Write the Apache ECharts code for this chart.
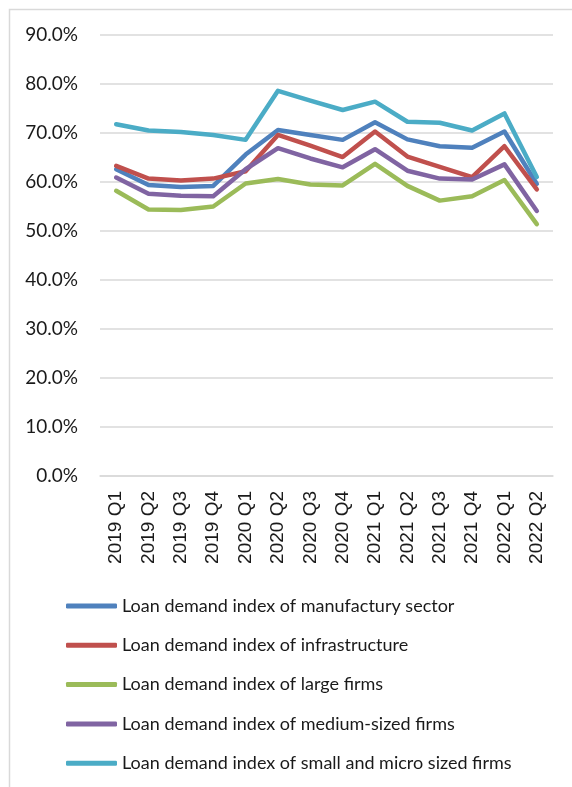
<!DOCTYPE html>
<html>
<head>
<meta charset="utf-8">
<script src="https://cdn.jsdelivr.net/npm/echarts@6/dist/echarts.min.js"></script>
<style>
  html, body { margin: 0; padding: 0; background: #ffffff; }
  #chart { width: 572px; height: 787px; }
</style>
</head>
<body>
<div id="chart"></div>
<script>
// Quarterly loan demand indices (%), 2019 Q1 – 2022 Q2
const quarters = ['2019 Q1', '2019 Q2', '2019 Q3', '2019 Q4', '2020 Q1', '2020 Q2', '2020 Q3',
                  '2020 Q4', '2021 Q1', '2021 Q2', '2021 Q3', '2021 Q4', '2022 Q1', '2022 Q2'];

const manufacturing = [62.6, 59.4, 59.0, 59.2, 65.6, 70.6, 69.6, 68.6, 72.2, 68.7, 67.3, 67.0, 70.3, 59.6];
const infrastructure = [63.3, 60.7, 60.3, 60.7, 62.2, 69.6, 67.4, 65.1, 70.3, 65.2, 63.1, 61.0, 67.3, 58.5];
const largeFirms = [58.2, 54.4, 54.3, 55.0, 59.7, 60.6, 59.5, 59.3, 63.7, 59.2, 56.2, 57.1, 60.4, 51.4];
const mediumFirms = [60.9, 57.6, 57.2, 57.1, 62.6, 66.9, 64.8, 63.0, 66.7, 62.3, 60.7, 60.5, 63.6, 54.1];
const smallMicroFirms = [71.8, 70.5, 70.2, 69.6, 68.6, 78.6, 76.6, 74.7, 76.4, 72.3, 72.1, 70.5, 74.0, 61.0];

const yTicks = { min: 0, max: 90, step: 10 };

const seriesDefs = [
  { name: 'Loan demand index of manufactury sector', data: manufacturing, color: '#4F81BD' },
  { name: 'Loan demand index of infrastructure', data: infrastructure, color: '#C0504D' },
  { name: 'Loan demand index of large firms', data: largeFirms, color: '#9BBB59' },
  { name: 'Loan demand index of medium-sized firms', data: mediumFirms, color: '#8064A2' },
  { name: 'Loan demand index of small and micro sized firms', data: smallMicroFirms, color: '#4BACC6' }
];

const chart = echarts.init(document.getElementById('chart'), null, { renderer: 'canvas' });

chart.setOption({
  backgroundColor: '#ffffff',
  animation: false,
  graphic: [{
    type: 'rect',
    left: 7, top: 7,
    shape: { width: 700, height: 900 },
    style: { fill: 'none', stroke: '#d9d9d9', lineWidth: 1.5 },
    silent: true
  }],
  grid: { left: 100, right: 19, top: 35, bottom: 311, containLabel: false },
  xAxis: {
    type: 'category',
    data: quarters,
    boundaryGap: true,
    axisLine: { show: true, lineStyle: { color: '#d9d9d9', width: 1.5 } },
    axisTick: { show: false },
    axisLabel: {
      rotate: 90,
      margin: 15,
      color: '#1a1a1a',
      fontFamily: 'Liberation Sans',
      fontSize: 19
    }
  },
  yAxis: {
    type: 'value',
    min: yTicks.min,
    max: yTicks.max,
    interval: yTicks.step,
    axisLine: { show: false },
    axisTick: { show: false },
    splitLine: { lineStyle: { color: '#d9d9d9', width: 1.5 } },
    axisLabel: {
      margin: 22,
      color: '#1a1a1a',
      fontFamily: 'Lato',
      fontSize: 19,
      formatter: v => v.toFixed(1) + '%'
    }
  },
  legend: {
    orient: 'vertical',
    left: 61,
    top: 591,
    itemWidth: 51,
    itemHeight: 5,
    itemGap: 19.3,
    icon: 'roundRect',
    textStyle: {
      color: '#1a1a1a',
      fontFamily: 'Lato',
      fontSize: 18,
      lineHeight: 20
    },
    data: seriesDefs.map(s => s.name)
  },
  series: seriesDefs.map(s => ({
    name: s.name,
    type: 'line',
    data: s.data,
    showSymbol: false,
    symbol: 'none',
    itemStyle: { color: s.color },
    lineStyle: { color: s.color, width: 4.5, cap: 'round', join: 'round' }
  }))
});
</script>
</body>
</html>
